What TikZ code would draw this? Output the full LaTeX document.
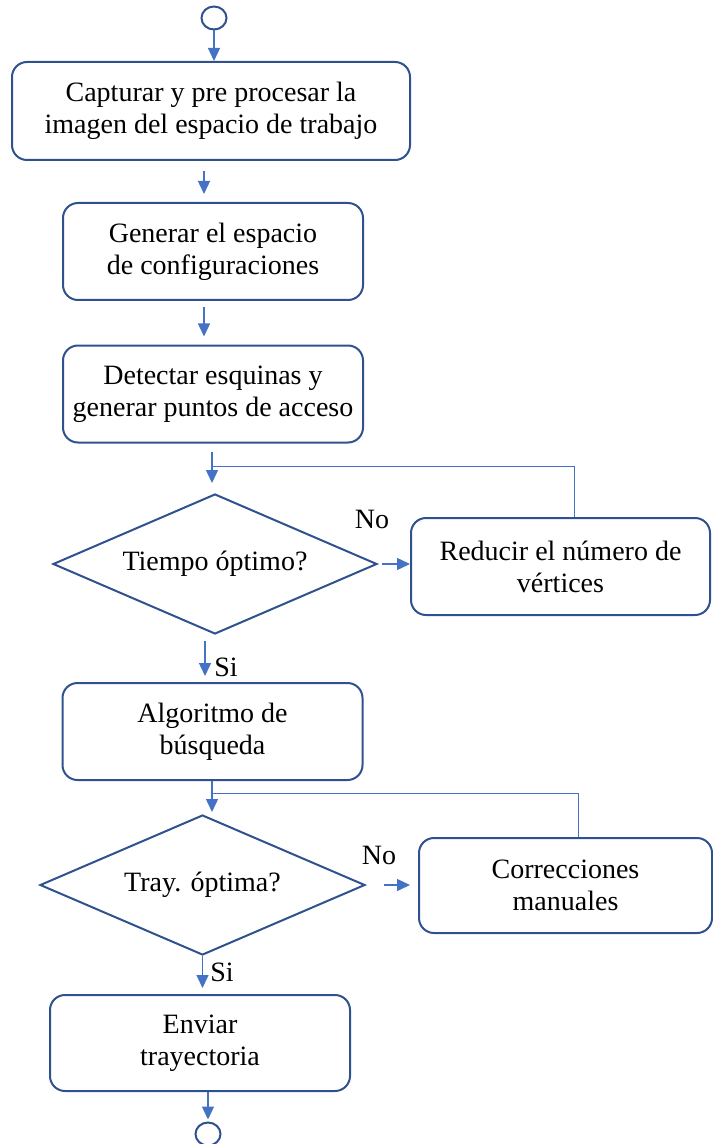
\documentclass[tikz,border=0pt]{standalone}
\usepackage{fontspec}
\setmainfont{Liberation Serif}
\usetikzlibrary{arrows.meta,shapes.geometric,positioning}
\definecolor{edgeblue}{HTML}{2F528F}
\definecolor{flowblue}{HTML}{4472C4}
\tikzset{>={Triangle[width=6pt,length=6.5pt]}, % filled arrow heads
every node/.style={font=\fontsize{14}{16}\selectfont, align=center}, % text of all nodes
proc/.style={draw=edgeblue, line width=1pt, rounded corners=7.5pt, inner sep=2pt}, % process boxes
test/.style={draw=edgeblue, line width=1pt, diamond, aspect=2.3, inner sep=0pt}, % decisions
term/.style={draw=edgeblue, line width=1pt, ellipse, minimum width=12.5pt, minimum height=11.5pt, inner sep=0pt}, % start and end
flow/.style={->, draw=flowblue, line width=0.7pt}, % arrows
back/.style={draw=flowblue, line width=0.5pt}, % return lines
}

\begin{document}
\begin{tikzpicture}[x=0.5pt,y=-0.5pt]
\useasboundingbox (0,0) rectangle (712,1144);
\node[term] (start) at (214,18) {};
\node[proc, minimum width=199pt, minimum height=49pt] (capture) at (211,111) {Capturar y pre procesar la\\imagen del espacio de trabajo};
\node[proc, minimum width=150pt, minimum height=48.5pt] (config) at (213,251.5) {Generar el espacio\\de configuraciones};
\node[proc, minimum width=150pt, minimum height=48.5pt] (corners) at (213,394) {Detectar esquinas y\\generar puntos de acceso};
\node[test, minimum width=162pt, minimum height=70pt] (time) at (215,564) {Tiempo óptimo?};
\node[proc, minimum width=149.5pt, minimum height=48.5pt] (reduce) at (560.5,566.5) {Reducir el número de\\vértices};
\node[proc, minimum width=150pt, minimum height=48.5pt] (search) at (212.5,731.5) {Algoritmo de\\búsqueda};
\node[test, minimum width=162.5pt, minimum height=70pt] (traj) at (202.5,885) {Tray. óptima?};
\node[proc, minimum width=146.5pt, minimum height=47.5pt] (fix) at (565.5,885.5) {Correcciones\\manuales};
\node[proc, minimum width=150pt, minimum height=48pt] (send) at (200,1043) {Enviar\\trayectoria};
\node[term] (stop) at (208,1134) {};
\node (no1) at (372,519) {No};
\node (no2) at (379,855) {No};
\node (si1) at (226,667) {Si};
\node (si2) at (222,972) {Si};
\coordinate (join1) at (212,466);
\coordinate (join2) at (212,793);

\draw[flow] (start) -- (start |- capture.north);
\draw[flow, shorten <=5pt, shorten >=4pt] (capture.south -| 204,0) -- (config.north -| 204,0);
\draw[flow, shorten <=3pt, shorten >=4pt] (config.south -| 204,0) -- (corners.north -| 204,0);
\draw[flow, shorten <=4pt, shorten >=5pt] (corners.south -| join1) -- (time.north -| join1);
\draw[back] (reduce.north -| 574,0) |- (join1);
\draw[flow, shorten <=2pt] (time.east) -- (time.east -| reduce.west);
\draw[flow, shorten <=3pt, shorten >=3pt] (time.south -| 205,0) -- (search.north -| 205,0);
\draw[flow, shorten >=1pt] (search.south -| join2) -- (traj.north -| join2);
\draw[back] (fix.north -| 578,0) |- (join2);
\draw[flow, shorten <=9pt, shorten >=4pt] (traj.east) -- (traj.east -| fix.west);
\draw[flow, shorten >=3pt] (traj.south) -- (traj.south |- send.north);
\draw[flow, shorten >=1pt] (send.south -| stop) -- (stop);
\end{tikzpicture}
\end{document}
